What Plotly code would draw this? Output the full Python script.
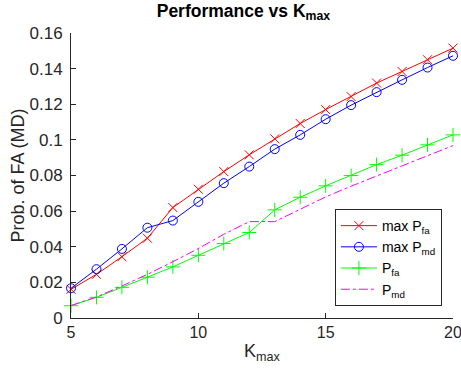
import plotly.graph_objects as go

k_max = list(range(5, 21))
max_pfa = [0.0161, 0.0245, 0.0344, 0.0448, 0.0620, 0.0723, 0.0822, 0.0916, 0.1006, 0.1092,
           0.1170, 0.1243, 0.1319, 0.1384, 0.1450, 0.1515]
max_pmd = [0.0167, 0.0274, 0.0388, 0.0507, 0.0547, 0.0652, 0.0757, 0.0850, 0.0948, 0.1028,
           0.1116, 0.1195, 0.1268, 0.1337, 0.1406, 0.1472]
pfa = [0.0069, 0.0116, 0.0172, 0.0229, 0.0287, 0.0352, 0.0418, 0.0480, 0.0607, 0.0678,
       0.0742, 0.0800, 0.0861, 0.0914, 0.0972, 0.1028]
pmd = [0.0070, 0.0118, 0.0180, 0.0245, 0.0316, 0.0390, 0.0470, 0.0541, 0.0541, 0.0612,
       0.0680, 0.0740, 0.0797, 0.0854, 0.0911, 0.0968]

x_ticks = [5, 10, 15, 20]
y_ticks = [0, 0.02, 0.04, 0.06, 0.08, 0.1, 0.12, 0.14, 0.16]

FONT = "Liberation Sans, Arial, Helvetica, sans-serif"
AX = "#262626"

fig = go.Figure()
fig.add_trace(go.Scatter(x=k_max, y=max_pfa, mode="lines+markers", name="max P<sub>fa</sub>",
                         line=dict(color="#ff0000", width=1),
                         marker=dict(symbol="x-thin-open", size=9, line=dict(color="#ff0000", width=1)),
                         cliponaxis=False))
fig.add_trace(go.Scatter(x=k_max, y=max_pmd, mode="lines+markers", name="max P<sub>md</sub>",
                         line=dict(color="#0000ff", width=1),
                         marker=dict(symbol="circle-open", size=9, color="#0000ff", line=dict(width=1)),
                         cliponaxis=False))
fig.add_trace(go.Scatter(x=k_max, y=pfa, mode="lines+markers", name="P<sub>fa</sub>",
                         line=dict(color="#00ff00", width=1),
                         marker=dict(symbol="cross-thin-open", size=10, line=dict(color="#00ff00", width=1)),
                         cliponaxis=False))
fig.add_trace(go.Scatter(x=k_max, y=pmd, mode="lines", name="P<sub>md</sub>",
                         line=dict(color="#ff00ff", width=1, dash="dashdot"),
                         cliponaxis=False))

fig.update_layout(
    width=461, height=370,
    margin=dict(l=71, r=8, t=33, b=52),
    paper_bgcolor="white", plot_bgcolor="white",
    font=dict(family=FONT, color=AX, size=15),
    title=dict(text="<b>Performance vs K<sub>max</sub></b>", x=0.528, xanchor="center",
               y=0.988, yanchor="top", font=dict(size=17.5, color="black")),
    showlegend=True,
    legend=dict(x=0.971, xanchor="right", y=0.042, yanchor="bottom",
                bgcolor="white", bordercolor=AX, borderwidth=1,
                font=dict(size=14, color="black"), itemwidth=36,
                tracegroupgap=0),
)
fig.update_xaxes(range=[5, 20], tickvals=x_ticks, ticks="inside", ticklen=5, tickcolor=AX,
                 showline=True, linecolor=AX, linewidth=1, showgrid=False, zeroline=False,
                 tickfont=dict(size=16), ticklabeloverflow="allow", automargin=False,
                 title=dict(text="K<sub>max</sub>", font=dict(size=18), standoff=4))
fig.update_yaxes(range=[0, 0.16], tickvals=y_ticks, ticks="inside", ticklen=5, tickcolor=AX,
                 showline=True, linecolor=AX, linewidth=1, showgrid=False, zeroline=False,
                 tickfont=dict(size=17), ticklabelstandoff=4, automargin=True,
                 title=dict(text="Prob. of FA (MD)", font=dict(size=18), standoff=0))

fig.write_html("out.html")
